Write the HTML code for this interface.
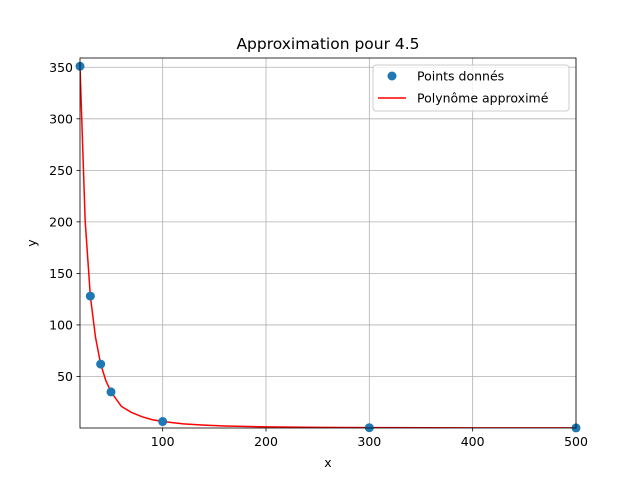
<!DOCTYPE html>
<html><head><meta charset="utf-8"><style>
body{margin:0;background:#fff}
svg text{font-family:"DejaVu Sans","Liberation Sans",sans-serif;fill:#000}
</style></head><body>
<svg id="c" width="640" height="480" xmlns="http://www.w3.org/2000/svg"></svg>
<script>
const pointX=[20,30,40,50,100,300,500];
const pointY=[351,128,62,35,6.3,0.3,0.1];
const curveX=[20,25,30,35,40,45,50,60,70,80,90,100,120,140,160,200,250,300,400,500];
const curveY=[351,201,128,88,62,46,35,21,15,11,8,6.3,4,2.8,2,1.1,0.6,0.35,0.15,0.1];
const xTicks=[100,200,300,400,500];
const yTicks=[50,100,150,200,250,300,350];
const L=80,R=576,T=58,B=428,xmin=20,xmax=500,ymin=0,ymax=359;
const sx=v=>L+(v-xmin)/(xmax-xmin)*(R-L);
const sy=v=>B-(v-ymin)/(ymax-ymin)*(B-T);
const svg=document.getElementById('c');const NS='http://www.w3.org/2000/svg';
function mk(t,a,p){const e=document.createElementNS(NS,t);for(const k in a)e.setAttribute(k,a[k]);(p||svg).appendChild(e);return e;}
let e;
e=mk('rect',{x:0,y:0,width:640,height:480,fill:'#fff'});


xTicks.forEach(v=>{
e=mk('line',{x1:sx(v),x2:sx(v),y1:T,y2:B,stroke:'#b0b0b0','stroke-width':0.8});


e=mk('line',{x1:sx(v),x2:sx(v),y1:B,y2:B+3.5,stroke:'#000','stroke-width':0.8});


e=mk('text',{x:sx(v),y:B+18,'text-anchor':'middle','font-size':12.5});e.textContent=v;


});
yTicks.forEach(v=>{
e=mk('line',{x1:L-3.5,x2:L,y1:sy(v),y2:sy(v),stroke:'#000','stroke-width':0.8});


e=mk('line',{x1:L,x2:R,y1:sy(v),y2:sy(v),stroke:'#b0b0b0','stroke-width':0.8});


e=mk('text',{x:L-7,y:sy(v)+4.5,'text-anchor':'end','font-size':12.5});e.textContent=v;


});
const cp=mk('clipPath',{id:'cp'});mk('rect',{x:L,y:T,width:R-L,height:B-T},cp);
e=mk('polyline',{points:curveX.map((x,i)=>sx(x)+','+sy(curveY[i])).join(' '),fill:'none',stroke:'#ff0000','stroke-width':1.5,'clip-path':'url(#cp)'});


pointX.forEach((x,i)=>{
e=mk('circle',{cx:sx(x),cy:sy(pointY[i]),r:4.5,fill:'#1f77b4'});


});
e=mk('rect',{x:L,y:T,width:R-L,height:B-T,fill:'none',stroke:'#000','stroke-width':0.8});


e=mk('text',{x:328,y:49,'text-anchor':'middle','font-size':15.5});e.textContent='Approximation pour 4.5';


e=mk('text',{x:328,y:467,'text-anchor':'middle','font-size':12.5});e.textContent='x';


e=mk('text',{x:36,y:243,'text-anchor':'middle','font-size':12.5,transform:'rotate(-90 36 243)'});e.textContent='y';


const lg=mk('g',{});


mk('rect',{x:373,y:65,width:196,height:46,rx:3,fill:'#fff','fill-opacity':0.8,stroke:'#ccc'},lg);
e=mk('circle',{cx:392,cy:76,r:4.5,fill:'#1f77b4'},lg);


e=mk('text',{x:417,y:80.5,'font-size':12.5},lg);e.textContent='Points donnés';


e=mk('line',{x1:378,x2:406,y1:98,y2:98,stroke:'#ff0000','stroke-width':1.5},lg);


e=mk('text',{x:417,y:102.5,'font-size':12.5},lg);e.textContent='Polynôme approximé';


</script>
</body></html>
